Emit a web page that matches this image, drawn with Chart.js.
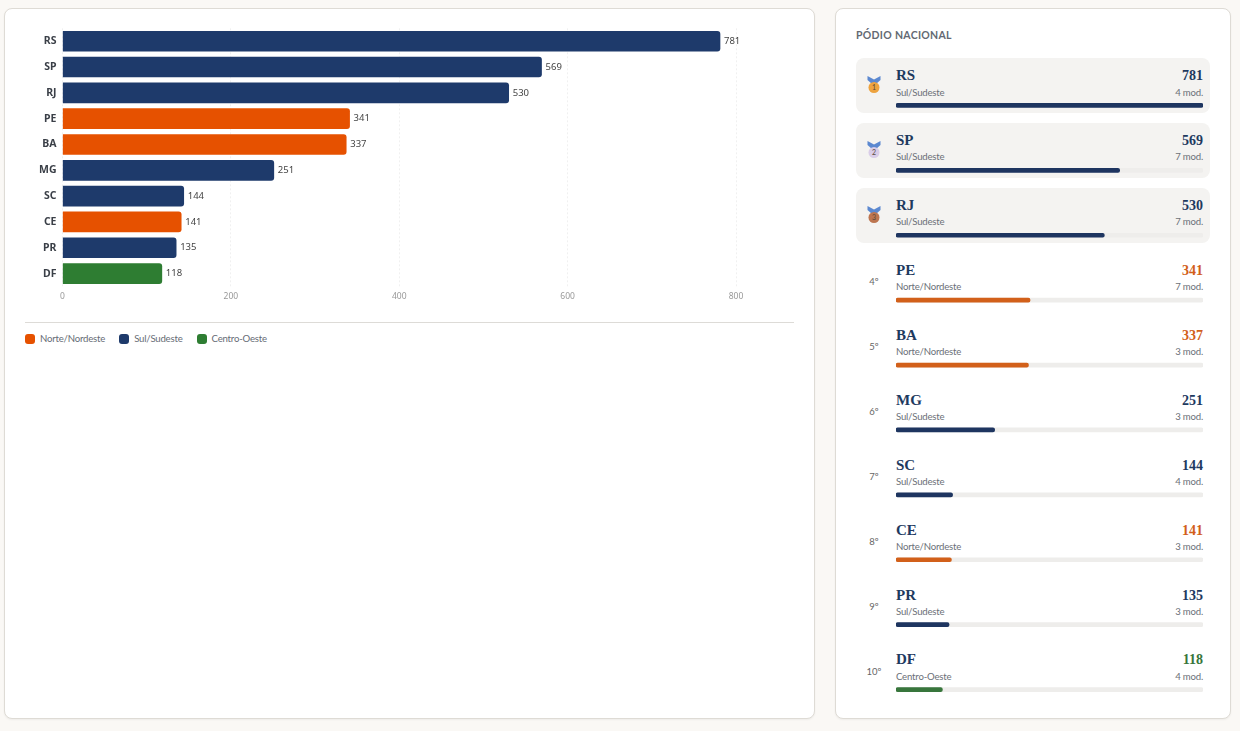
<!DOCTYPE html>
<html lang="pt-BR">
<head>
<meta charset="utf-8">
<title>Pódio nacional</title>
<script src="https://cdn.jsdelivr.net/npm/chart.js@4"></script>
<style>
* { box-sizing: border-box; margin: 0; padding: 0; }
html, body { width: 1240px; height: 731px; overflow: hidden; background: #faf8f5; font-family: Lato, sans-serif; }
.card { position: absolute; background: #fff; border: 1px solid #dedbd5; border-radius: 8px; box-shadow: 0 1px 2px rgba(0,0,0,.05); }
#mainCard { left: 4px; top: 8px; width: 811px; height: 711px; }
#sideCard { left: 835px; top: 8px; width: 396px; height: 711px; }
#chartBox { position: absolute; left: 25px; top: 16px; width: 769px; height: 294px; }
#sep { position: absolute; left: 25px; top: 322px; width: 769px; height: 1px; background: #dddbd7; }
#legend { position: absolute; left: 25px; top: 332px; display: flex; font-size: 9.6px; letter-spacing: -.2px; line-height: 14px; color: #666c75; }
#legend div { display: flex; align-items: center; margin-right: 14px; }
#legend i { width: 10px; height: 10px; border-radius: 3px; margin-right: 5px; }
#sideTitle { position: absolute; left: 856px; top: 27px; font-size: 10.5px; line-height: 16px; font-weight: 700; letter-spacing: .3px; color: #636973; }
#rows { position: absolute; left: 856px; top: 58px; width: 354px; }
.row { position: relative; height: 54.9px; margin-bottom: 10px; border-radius: 8px; }
.row.top { background: #f4f3f1; }
.rank { position: absolute; left: 0; width: 36px; top: 22.5px; text-align: center; font-size: 9.5px; line-height: 14px; color: #666; }
.row svg { position: absolute; left: 10px; top: 17px; }
.name { position: absolute; left: 40px; top: 7.4px; font: bold 15px/20px "Liberation Serif", serif; color: #1e3a5f; }
.val { position: absolute; right: 7px; top: 8.4px; font: bold 14px/20px "Liberation Serif", serif; }
.sub { position: absolute; left: 40px; top: 27.6px; font-size: 9.6px; letter-spacing: -.2px; line-height: 14px; color: #6b7078; }
.mod { position: absolute; right: 7px; top: 27.6px; font-size: 9.6px; letter-spacing: -.2px; line-height: 14px; color: #6b7078; }
#trackBox { position: absolute; left: 896px; top: 72.5px; width: 307px; height: 649px; pointer-events: none; }
</style>
</head>
<body>
<div class="card" id="mainCard"></div>
<div class="card" id="sideCard"></div>
<div id="chartBox"><canvas id="rankChart"></canvas></div>
<div id="sep"></div>
<div id="legend"></div>
<div id="sideTitle">PÓDIO NACIONAL</div>
<div id="rows"></div>
<div id="trackBox"><canvas id="trackChart"></canvas></div>

<script>
const states = ["RS", "SP", "RJ", "PE", "BA", "MG", "SC", "CE", "PR", "DF"];
const medals = [781, 569, 530, 341, 337, 251, 144, 141, 135, 118];
const regions = ["Sul/Sudeste", "Sul/Sudeste", "Sul/Sudeste", "Norte/Nordeste", "Norte/Nordeste", "Sul/Sudeste", "Sul/Sudeste", "Norte/Nordeste", "Sul/Sudeste", "Centro-Oeste"];
const modalities = [4, 7, 7, 7, 3, 3, 4, 3, 3, 4];
const axisTicks = [0, 200, 400, 600, 800];
const legendRegions = ["Norte/Nordeste", "Sul/Sudeste", "Centro-Oeste"];

const regionColor = { "Norte/Nordeste": "#e65100", "Sul/Sudeste": "#1e3a6b", "Centro-Oeste": "#2e7d32" };
const panelColor = { "Norte/Nordeste": "#d2601a", "Sul/Sudeste": "#1e3560", "Centro-Oeste": "#38763c" };
const medalColor = ["#eda33f", "#d9cde8", "#bd7550"];

const valueLabels = {
    id: "valueLabels",
    afterDatasetsDraw(chart) {
        const ctx = chart.ctx;
        const bars = chart.getDatasetMeta(0).data;
        ctx.save();
        ctx.font = '9.5px "Noto Sans"';
        ctx.fillStyle = "#444";
        ctx.textBaseline = "middle";
        bars.forEach((bar, i) => ctx.fillText(medals[i], bar.x + 4, bar.y));
        ctx.restore();
    }
};

new Chart(document.getElementById("rankChart"), {
    type: "bar",
    plugins: [valueLabels],
    data: {
        labels: states,
        datasets: [{
            data: medals,
            backgroundColor: regions.map(r => regionColor[r]),
            borderRadius: 3,
            barThickness: 20
        }]
    },
    options: {
        indexAxis: "y",
        responsive: true,
        maintainAspectRatio: false,
        animation: false,
        layout: { padding: { top: 3.7, right: 58 } },
        plugins: { legend: { display: false }, tooltip: { enabled: false } },
        scales: {
            x: {
                min: 0,
                max: 800,
                afterBuildTicks: axis => { axis.ticks = axisTicks.map(v => ({ value: v })); },
                afterFit: axis => { axis.height = 23.5; },
                border: { display: false, dash: [2, 2] },
                grid: { color: "rgba(0,0,0,0.06)", drawTicks: false, lineWidth: 1 },
                ticks: { color: "#999", font: { size: 8.5, family: "Noto Sans" }, padding: 5, maxRotation: 0 }
            },
            y: {
                afterFit: axis => { axis.width = 37.5; },
                border: { display: false },
                grid: { display: false, drawTicks: false },
                ticks: { color: "#3a3f47", font: { size: 10.5, weight: "bold", family: "Noto Sans" }, padding: 6 }
            }
        }
    }
});

new Chart(document.getElementById("trackChart"), {
    type: "bar",
    data: {
        labels: states,
        datasets: [
            { data: medals, backgroundColor: regions.map(r => panelColor[r]), borderRadius: 2, borderSkipped: false, barThickness: 4, grouped: false, order: 1 },
            { data: states.map(() => 781), backgroundColor: "#eeedeb", borderRadius: 2, borderSkipped: false, barThickness: 4, grouped: false, order: 2 }
        ]
    },
    options: {
        indexAxis: "y",
        responsive: true,
        maintainAspectRatio: false,
        animation: false,
        plugins: { legend: { display: false }, tooltip: { enabled: false } },
        scales: {
            x: { display: false, min: 0, max: 781 },
            y: { display: false }
        }
    }
});

document.getElementById("legend").innerHTML = legendRegions.map(r =>
    `<div><i style="background:${regionColor[r]}"></i>${r}</div>`).join("");

function medalIcon(i) {
    return `<svg width="16" height="20" viewBox="0 0 16 20">
        <path d="M1.5 1 L8 4.5 L14.5 1 L14.5 5 L10 9 L6 9 L1.5 5 Z" fill="#5b88d0"/>
        <circle cx="8" cy="12.5" r="5.5" fill="${medalColor[i]}"/>
        <text x="8" y="15" text-anchor="middle" font-size="7" fill="#5a4a38">${i + 1}</text>
    </svg>`;
}

document.getElementById("rows").innerHTML = states.map((s, i) => `
    <div class="row${i < 3 ? " top" : ""}">
        ${i < 3 ? medalIcon(i) : `<div class="rank">${i + 1}º</div>`}
        <div class="name">${s}</div>
        <div class="val" style="color:${regions[i] === "Sul/Sudeste" ? "#1e3a5f" : panelColor[regions[i]]}">${medals[i]}</div>
        <div class="sub">${regions[i]}</div>
        <div class="mod">${modalities[i]} mod.</div>
    </div>`).join("");
</script>
</body>
</html>
